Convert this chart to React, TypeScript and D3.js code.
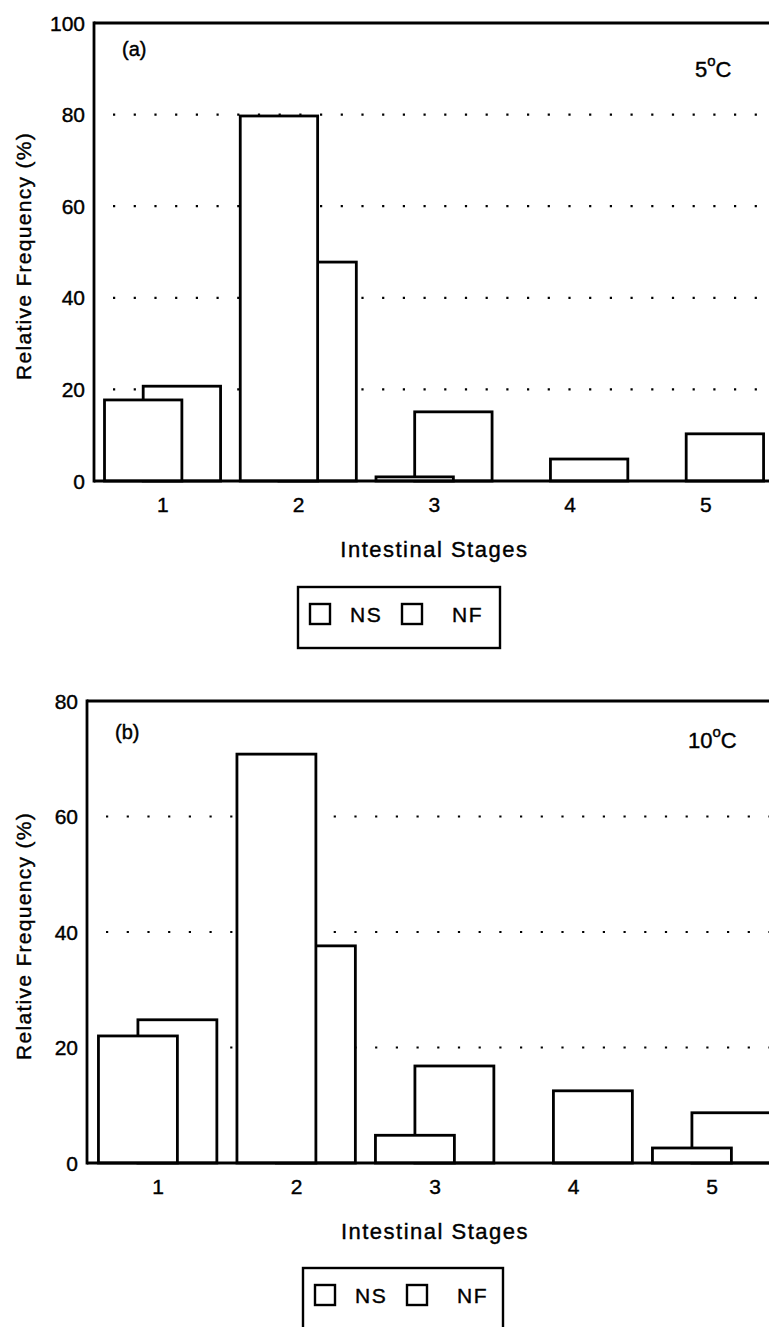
import React from 'react';
import { scaleLinear } from 'd3';

const width = 769;
const height = 1327;

const stages = [1, 2, 3, 4, 5];
// panel (a) 5°C
const nsA = [17.7, 79.7, 0.9, 0, 0];
const nfA = [20.7, 47.8, 15.1, 4.8, 10.3];
const yTicksA = [0, 20, 40, 60, 80, 100];
const gridA = [20, 40, 60, 80];
// panel (b) 10°C
const nsB = [22.0, 70.8, 4.8, 0, 2.6];
const nfB = [24.8, 37.6, 16.8, 12.5, 8.7];
const yTicksB = [0, 20, 40, 60, 80];
const gridB = [20, 40, 60];

const font = 'Liberation Sans, Arial, Helvetica, sans-serif';
const barW = 0.57;
const nsOff = -0.43;
const nfOff = -0.145;

type PanelProps = {
  ns: number[];
  nf: number[];
  yTicks: number[];
  grid: number[];
  yMax: number;
  axisX: number;
  xRange: [number, number];
  y0: number;
  yTop: number;
  tag: string;
  temp: string;
  tagPos: [number, number];
  tempPos: [number, number];
  legend: { x: number; y: number; w: number; h: number };
};

function Panel(p: PanelProps) {
  const x = scaleLinear().domain([0.5, 5.5]).range(p.xRange);
  const y = scaleLinear().domain([0, p.yMax]).range([p.y0, p.yTop]);
  const step = x(2) - x(1);
  const sw = 2.8;

  const bar = (v: number, s: number, off: number, key: string) =>
    v > 0 ? (
      <rect
        key={key}
        x={x(s + off)}
        y={y(v)}
        width={barW * step}
        height={y(0) - y(v)}
        fill="#fff"
        stroke="#000"
        strokeWidth={sw}
      />
    ) : null;

  const midY = (p.y0 + p.yTop) / 2;
  const L = p.legend;

  return (
    <g>
      {p.grid.map((g) => (
        <line
          key={g}
          x1={p.axisX + 19}
          x2={width}
          y1={y(g)}
          y2={y(g)}
          stroke="#000"
          strokeWidth={2.2}
          strokeDasharray="2.2 18.5"
        />
      ))}
      {stages.map((s, i) => (
        <g key={s}>
          {bar(p.nf[i], s, nfOff, 'nf')}
          {bar(p.ns[i], s, nsOff, 'ns')}
        </g>
      ))}
      {/* axes frame */}
      <line x1={p.axisX} x2={p.axisX} y1={y(0) + 1.4} y2={y(p.yMax) - 1.4} stroke="#000" strokeWidth={sw} />
      <line x1={p.axisX} x2={width} y1={y(0)} y2={y(0)} stroke="#000" strokeWidth={sw} />
      <line x1={p.axisX} x2={width} y1={y(p.yMax)} y2={y(p.yMax)} stroke="#000" strokeWidth={sw} />
      <g fontFamily={font} fill="#000" stroke="#000" strokeWidth={0.4}>
        {p.yTicks.map((t) => (
          <text key={t} x={p.axisX - 9} y={y(t)} dy="0.36em" textAnchor="end" fontSize={21}>
            {t}
          </text>
        ))}
        {stages.map((s) => (
          <text key={s} x={x(s)} y={p.y0 + 31} textAnchor="middle" fontSize={21}>
            {s}
          </text>
        ))}
        <text x={x(3)} y={p.y0 + 76} textAnchor="middle" fontSize={22} letterSpacing={1.5}>
          Intestinal Stages
        </text>
        <text
          transform={`translate(31,${midY + 4}) rotate(-90)`}
          textAnchor="middle"
          fontSize={21}
          letterSpacing={1.3}
        >
          Relative Frequency (%)
        </text>
        <text x={p.tagPos[0]} y={p.tagPos[1]} fontSize={20}>
          {p.tag}
        </text>
        <text x={p.tempPos[0]} y={p.tempPos[1]} fontSize={22}>
          {p.temp}
          <tspan fontSize={15} dy={-11}>o</tspan>
          <tspan dy={11}>C</tspan>
        </text>
      </g>
      {/* legend */}
      <rect x={L.x} y={L.y} width={L.w} height={L.h} fill="#fff" stroke="#000" strokeWidth={2.4} />
      <rect x={L.x + 12} y={L.y + 17} width={20} height={20} fill="#fff" stroke="#000" strokeWidth={2.4} />
      <rect x={L.x + 104} y={L.y + 17} width={20} height={20} fill="#fff" stroke="#000" strokeWidth={2.4} />
      <g fontFamily={font} fill="#000" stroke="#000" strokeWidth={0.4} fontSize={21} letterSpacing={1.5}>
        <text x={L.x + 52} y={L.y + 35}>NS</text>
        <text x={L.x + 154} y={L.y + 35}>NF</text>
      </g>
    </g>
  );
}

export default function App() {
  return (
    <svg
      width={width}
      height={height}
      style={{ position: 'absolute', left: 0, top: 0, background: '#fff' }}
    >
      <rect width={width} height={height} fill="#fff" />
      <Panel
        ns={nsA}
        nf={nfA}
        yTicks={yTicksA}
        grid={gridA}
        yMax={100}
        axisX={94}
        xRange={[95, 773.75]}
        y0={481}
        yTop={23}
        tag="(a)"
        temp="5"
        tagPos={[122, 56]}
        tempPos={[695, 77]}
        legend={{ x: 298, y: 587, w: 202, h: 61 }}
      />
      <Panel
        ns={nsB}
        nf={nfB}
        yTicks={yTicksB}
        grid={gridB}
        yMax={80}
        axisX={87}
        xRange={[88.75, 781.25]}
        y0={1163}
        yTop={701}
        tag="(b)"
        temp="10"
        tagPos={[115, 739]}
        tempPos={[688, 748]}
        legend={{ x: 303, y: 1268, w: 200, h: 61 }}
      />
    </svg>
  );
}
